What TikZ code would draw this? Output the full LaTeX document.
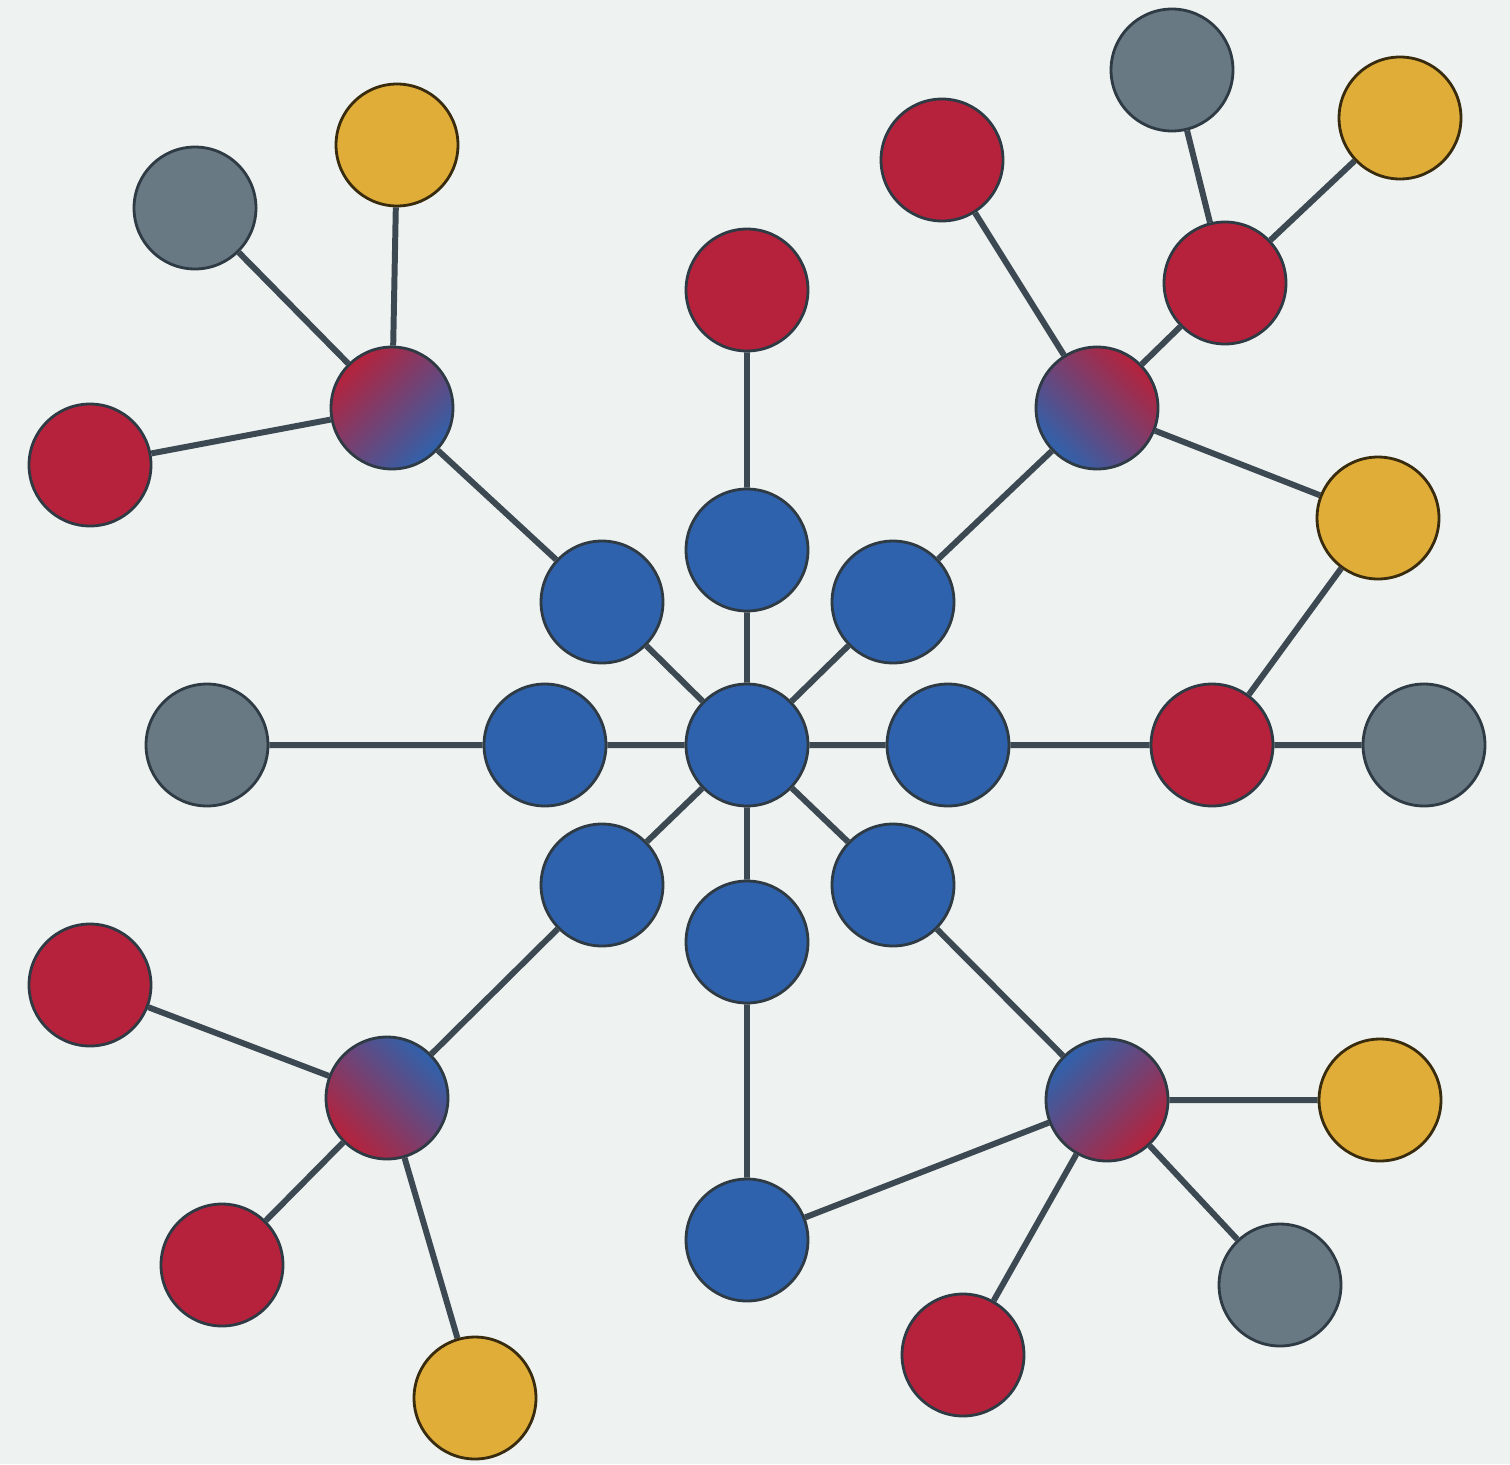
\documentclass[tikz,border=0pt]{standalone}
\usetikzlibrary{backgrounds}
\definecolor{bg}{HTML}{EEF2F1}
\definecolor{nblue}{HTML}{2F62AC}
\definecolor{nred}{HTML}{B6223B}
\definecolor{nyel}{HTML}{E0AD38}
\definecolor{ngray}{HTML}{687983}
\definecolor{edgec}{HTML}{3C4852}
\definecolor{rimc}{HTML}{2E3A44}
\begin{document}
\begin{tikzpicture}[x=0.02cm,y=-0.02cm,
  ball/.style={circle,draw=rimc,line width=1.6pt,minimum size=2.44cm,inner sep=0pt},
  bl/.style={ball,fill=nblue},
  rd/.style={ball,fill=nred},
  yl/.style={ball,fill=nyel,draw=black!75!nyel},
  gr/.style={ball,fill=ngray},
  mix/.style={ball,top color=nred,bottom color=nblue,middle color=nred!50!nblue,shading angle=#1},
  link/.style={draw=edgec,line width=3.4pt}]
% inner
\node[bl] (c) at (747,745) {};
\node[bl] (n) at (747,550) {};
\node[bl] (ne) at (893,602) {};
\node[bl] (e) at (948,745) {};
\node[bl] (se) at (893,885) {};
\node[bl] (s) at (747,942) {};
\node[bl] (sw) at (602,885) {};
\node[bl] (w) at (545,745) {};
\node[bl] (nw) at (602,602) {};
% top / sides
\node[rd] (top) at (747,290) {};
\node[gr] (lg) at (207,745) {};
\node[rd] (er) at (1212,745) {};
\node[gr] (eg) at (1424,745) {};
\node[bl] (sb) at (747,1240) {};
% NW cluster
\node[mix=45] (mnw) at (392,408) {};
\node[gr] (nwg) at (195,208) {};
\node[yl] (nwy) at (397,145) {};
\node[rd] (nwr) at (90,465) {};
% NE cluster
\node[mix=-45] (mne) at (1097,408) {};
\node[rd] (ner1) at (942,160) {};
\node[rd] (ner2) at (1225,283) {};
\node[gr] (neg) at (1172,70) {};
\node[yl] (ney1) at (1400,118) {};
\node[yl] (ney2) at (1378,518) {};
% SW cluster
\node[mix=135] (msw) at (387,1098) {};
\node[rd] (swr1) at (90,985) {};
\node[rd] (swr2) at (222,1265) {};
\node[yl] (swy) at (475,1398) {};
% SE cluster
\node[mix=-135] (mse) at (1107,1100) {};
\node[yl] (sey) at (1380,1100) {};
\node[gr] (seg) at (1280,1285) {};
\node[rd] (ser) at (963,1355) {};
\begin{pgfonlayer}{background}
\fill[bg] (0,0) rectangle (1510,1464);
\path[link] (c) -- (n) (c) -- (ne) (c) -- (e) (c) -- (se) (c) -- (s) (c) -- (sw) (c) -- (w) (c) -- (nw);
\path[link] (n) -- (top) (w) -- (lg) (e) -- (er) (er) -- (eg) (er) -- (ney2) (s) -- (sb) (sb) -- (mse);
\path[link] (nw) -- (mnw) (mnw) -- (nwg) (mnw) -- (nwy) (mnw) -- (nwr);
\path[link] (ne) -- (mne) (mne) -- (ner1) (mne) -- (ner2) (mne) -- (ney2) (ner2) -- (neg) (ner2) -- (ney1);
\path[link] (sw) -- (msw) (msw) -- (swr1) (msw) -- (swr2) (msw) -- (swy);
\path[link] (se) -- (mse) (mse) -- (sey) (mse) -- (seg) (mse) -- (ser);
\end{pgfonlayer}
\end{tikzpicture}
\end{document}
